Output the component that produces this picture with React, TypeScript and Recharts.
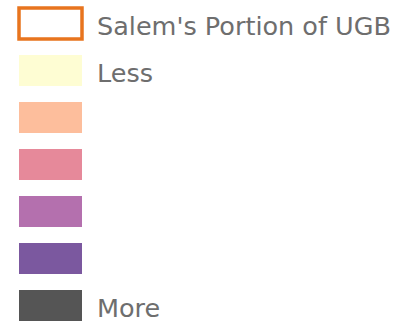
import React from 'react';
import { BarChart, Bar, XAxis, YAxis, Cell, LabelList } from 'recharts';

const classes = ['ugb', 'c1', 'c2', 'c3', 'c4', 'c5', 'c6'];
const labels = ["Salem's Portion of UGB", 'Less', '', '', '', '', 'More'];
const swatch = [1, 1, 1, 1, 1, 1, 1];
const fills = ['#ffffff', '#fefdd3', '#fdbe9c', '#e6899a', '#b470ae', '#7b589f', '#555555'];
const strokes = ['#e8741e', 'none', 'none', 'none', 'none', 'none', 'none'];

const data = classes.map((id, i) => ({ id, label: labels[i], value: swatch[i] }));

const App: React.FC = () => {
  return (
    <div style={{ position: 'absolute', left: 0, top: 0, width: 398, height: 326, background: '#fff', overflow: 'hidden' }}>
      <BarChart
        width={398}
        height={329}
        data={data}
        layout="vertical"
        margin={{ top: 0, right: 316, bottom: 0, left: 19 }}
        barCategoryGap={0}
      >
        <XAxis type="number" domain={[0, 1]} hide />
        <YAxis type="category" dataKey="id" hide />
        <Bar dataKey="value" barSize={31} isAnimationActive={false}>
          {data.map((d, i) => (
            <Cell key={d.id} fill={fills[i]} stroke={strokes[i]} strokeWidth={strokes[i] === 'none' ? 0 : 3.5} />
          ))}
          <LabelList
            dataKey="label"
            position="right"
            offset={15}
            fill="#6e6e6e"
            fontSize={25.5}
            fontFamily="DejaVu Sans"
            dy={2}
          />
        </Bar>
      </BarChart>
    </div>
  );
};

export default App;
